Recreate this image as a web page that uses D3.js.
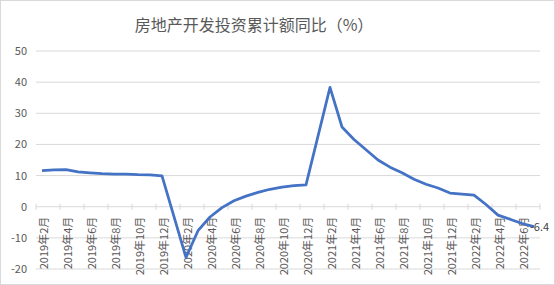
<head>
    <meta charset="utf-8"/>
    <script src="https://d3js.org/d3.v7.min.js"></script>
    <style>
        body { margin: 0; background: #fff; }
        text { font-family: "Noto Sans CJK SC", "DejaVu Sans", sans-serif; }
    </style>
</head>
<body>
    <svg id="chart" width="555" height="285"></svg>
    <script>
        // months, January is empty (Jan-Feb reported together)
        let months = [
            "2019年2月","2019年3月","2019年4月","2019年5月","2019年6月","2019年7月","2019年8月","2019年9月","2019年10月","2019年11月","2019年12月",
            "2020年1月","2020年2月","2020年3月","2020年4月","2020年5月","2020年6月","2020年7月","2020年8月","2020年9月","2020年10月","2020年11月","2020年12月",
            "2021年1月","2021年2月","2021年3月","2021年4月","2021年5月","2021年6月","2021年7月","2021年8月","2021年9月","2021年10月","2021年11月","2021年12月",
            "2022年1月","2022年2月","2022年3月","2022年4月","2022年5月","2022年6月","2022年7月"
        ];
        let values = [
            11.6, 11.8, 11.9, 11.2, 10.9, 10.6, 10.5, 10.5, 10.3, 10.2, 9.9,
            null, -16.3, -7.7, -3.3, -0.3, 1.9, 3.4, 4.6, 5.6, 6.3, 6.8, 7.0,
            null, 38.3, 25.6, 21.6, 18.3, 15.0, 12.7, 10.9, 8.8, 7.2, 6.0, 4.4,
            null, 3.7, 0.7, -2.7, -4.0, -5.4, -6.4
        ];
        let yTicks = [-20, -10, 0, 10, 20, 30, 40, 50];
        let title = "房地产开发投资累计额同比（%）";

        let svg = d3.select("svg#chart");
        svg.append("rect")
            .attr("x", 0.5).attr("y", 0.5)
            .attr("width", 554).attr("height", 284)
            .style("fill", "#fff")
            .style("stroke", "#d9d9d9");

        let xScale = d3.scaleBand().domain(months).range([36, 540]);
        let yScale = d3.scaleLinear().domain([-20, 50]).range([269, 51]);

        // title
        svg.append("text")
            .text(title)
            .attr("x", 254)
            .attr("y", 31)
            .attr("text-anchor", "middle")
            .style("font-size", "16px")
            .style("fill", "#595959");

        // grid lines + y labels
        yTicks.forEach(function(t) {
            svg.append("line")
                .attr("x1", 36).attr("x2", 540)
                .attr("y1", yScale(t)).attr("y2", yScale(t))
                .style("stroke", "#d9d9d9")
                .style("stroke-width", 1);
            svg.append("text")
                .text(t)
                .attr("x", 27)
                .attr("y", yScale(t) + 4)
                .attr("text-anchor", "end")
                .style("font-size", "11px")
                .style("fill", "#595959");
        });

        // x tick marks every 2 categories, labels on every other month
        let y0 = yScale(0);
        months.forEach(function(m, i) {
            if (i % 2 == 0) {
                svg.append("line")
                    .attr("x1", xScale(m)).attr("x2", xScale(m))
                    .attr("y1", y0 - 3).attr("y2", y0 + 3)
                    .style("stroke", "#d9d9d9");
                let cx = xScale(m) + xScale.bandwidth() / 2;
                svg.append("text")
                    .text(m)
                    .attr("transform", "translate(" + (cx + 6) + "," + (y0 + 10) + ") rotate(-90)")
                    .attr("text-anchor", "end")
                    .style("font-size", "11px")
                    .style("fill", "#595959");
            }
        });
        svg.append("line")
            .attr("x1", 540).attr("x2", 540)
            .attr("y1", y0 - 3).attr("y2", y0 + 3)
            .style("stroke", "#d9d9d9");

        // line, empty months are skipped and the points joined
        let pts = [];
        months.forEach(function(m, i) {
            if (values[i] !== null) pts.push([xScale(m) + xScale.bandwidth() / 2, yScale(values[i])]);
        });
        svg.append("path")
            .attr("d", d3.line()(pts))
            .style("fill", "none")
            .style("stroke", "#4472c4")
            .style("stroke-width", 2.75)
            .style("stroke-linejoin", "round");

        // label on the last point
        let last = pts[pts.length - 1];
        svg.append("text")
            .text(values[values.length - 1])
            .attr("x", last[0] - 4)
            .attr("y", last[1] + 4)
            .style("font-size", "11px")
            .style("fill", "#404040");
    </script>
</body>
